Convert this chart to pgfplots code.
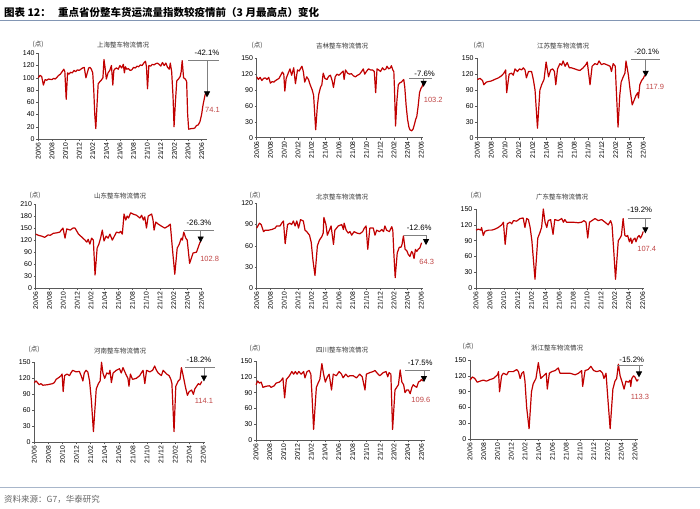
\documentclass[border=0pt]{standalone}
\usepackage{fontspec}
\setmainfont{Liberation Sans}
\newfontfamily\cjk{Noto Sans CJK SC}
\usepackage{pgfplots}
\pgfplotsset{compat=1.18}
\usetikzlibrary{arrows.meta}
\definecolor{lineRed}{RGB}{192,0,0}
\definecolor{valRed}{RGB}{192,70,70}
\definecolor{ruleBlue}{RGB}{130,150,180}
\pgfplotsset{
 panel/.style={scale only axis, anchor=south west, xmin=0, ymin=0,
  axis x line*=bottom, axis y line*=left,
  axis line style={-, draw=black!65, line width=0.6pt},
  xtick={0,2,...,24},
  xticklabels={20/06,20/08,20/10,20/12,21/02,21/04,21/06,21/08,21/10,21/12,22/02,22/04,22/06},
  x tick label style={rotate=90, anchor=east, font=\fontsize{6.8}{7}\selectfont, inner sep=1.5pt},
  y tick label style={font=\fontsize{7}{7}\selectfont, inner sep=1.5pt},
  tick align=outside, major tick length=2pt,
  tick style={draw=black!65, line width=0.5pt},
  clip=false,
  /pgf/number format/assume math mode=true,
 },
 redline/.style={draw=lineRed, line width=1.2pt, mark=none, line join=round, forget plot},
}
\tikzset{
 hl/.style={draw=black!50, line width=0.8pt},
 ar/.style={draw=black!50, line width=0.7pt, -{Triangle[width=6pt,length=6pt,fill=black,color=black]}},
 pct/.style={font=\fontsize{7.8}{8}\selectfont, inner sep=0pt},
 val/.style={font=\fontsize{7.5}{8}\selectfont, text=valRed, inner sep=0pt},
}
\newcommand{\ptitle}[3]{\node[font=\cjk\fontsize{6.5}{7}\selectfont, text=black!80] at (#1pt,-#2pt) {#3};}
\begin{document}
\begin{tikzpicture}
\useasboundingbox (0,0) rectangle (700pt,-508pt);
% header
\node[anchor=west, font=\cjk\bfseries\fontsize{10.5}{11}\selectfont, inner sep=0pt] at (4pt,-12.5pt) {图表 12：\hspace{0.7em}重点省份整车货运流量指数较疫情前（3 月最高点）变化};
\draw[ruleBlue, line width=1pt] (0pt,-20.5pt) -- (700pt,-20.5pt);
% footer
\draw[ruleBlue!70, line width=0.8pt] (0pt,-487pt) -- (700pt,-487pt);
\node[anchor=west, font=\cjk\fontsize{8.5}{9}\selectfont, text=black!60, inner sep=0pt] at (4pt,-499.5pt) {资料来源：G7，华泰研究};

% ---------------- Shanghai
\ptitle{123}{45}{上海整车物流情况}
\ptitle{38}{44}{(点)}
\begin{axis}[panel, at={(38.3pt,-139pt)}, width=168.4pt, height=85.7pt, xmax=24.75, ymax=140, ytick={0,20,...,140}]
\addplot[redline] coordinates {(0,100)(0.25,104)(0.5,102)(0.75,88)(1.0,97)(1.25,96)(1.5,98)(2.0,97)(2.25,99)(2.5,98)(2.75,101)(3.0,104)(3.25,106)(3.5,110)(3.75,114)(3.9,110)(4.1,65)(4.3,108)(4.5,106)(4.75,109)(5.0,108)(5.25,112)(5.5,110)(5.75,113)(6.0,112)(6.25,114)(6.5,116)(6.75,117)(7.0,100)(7.2,108)(7.4,116)(7.6,117)(7.8,114)(8.0,108)(8.15,80)(8.3,40)(8.45,17)(8.65,60)(8.8,90)(9.0,93)(9.25,96)(9.5,100)(9.65,130)(9.8,118)(10.0,98)(10.25,108)(10.5,112)(10.75,120)(10.95,88)(11.1,112)(11.3,115)(11.5,116)(11.75,114)(12.0,120)(12.25,116)(12.5,122)(12.65,108)(12.8,118)(13.0,114)(13.25,115)(13.5,112)(13.75,113)(14.0,117)(14.25,116)(14.5,119)(14.75,118)(15.0,121)(15.25,120)(15.5,124)(15.75,127)(15.9,118)(16.05,82)(16.25,120)(16.5,119)(16.75,122)(17.0,121)(17.25,123)(17.5,124)(17.75,122)(18.0,119)(18.25,125)(18.5,120)(18.75,124)(19.0,117)(19.25,114)(19.4,124)(19.6,110)(19.8,70)(19.95,20)(20.15,60)(20.35,95)(20.6,98)(20.85,102)(21.0,110)(21.15,128)(21.35,100)(21.6,98)(21.8,94)(21.95,40)(22.1,16)(22.5,17)(22.75,17)(23.0,18)(23.25,22)(23.5,23)(23.75,28)(24.0,40)(24.2,55)(24.4,66)(24.55,74.1)};
\draw[hl] (axis cs:22.05,128) -- (axis cs:26.5,128);
\draw[ar] (axis cs:24.8,128) -- (axis cs:24.8,68);
\node[pct] at (axis cs:24.8,141) {-42.1\%};
\node[val] at (axis cs:25.6,47) {74.1};
\end{axis}

% ---------------- Jilin
\ptitle{342}{45.7}{吉林整车物流情况}
\ptitle{257}{45}{(点)}
\begin{axis}[panel, at={(256.7pt,-137.7pt)}, width=166.6pt, height=79.4pt, xmax=24.3, ymax=150, ytick={0,30,...,150}]
\addplot[redline] coordinates {(0,115)(0.25,110)(0.5,114)(0.75,108)(1.0,112)(1.25,113)(1.5,110)(1.75,114)(2.0,103)(2.25,106)(2.5,105)(2.75,108)(3.0,110)(3.25,112)(3.5,118)(3.75,124)(3.95,120)(4.1,88)(4.3,112)(4.6,122)(4.85,130)(5.1,118)(5.4,132)(5.65,102)(5.95,128)(6.2,126)(6.45,132)(6.6,135)(6.8,125)(7.0,105)(7.3,115)(7.55,110)(7.8,100)(8.1,90)(8.3,80)(8.6,15)(8.85,60)(9.05,82)(9.3,95)(9.5,100)(9.7,122)(9.95,112)(10.25,110)(10.5,116)(10.75,118)(11.0,108)(11.2,95)(11.45,115)(11.7,120)(12.0,118)(12.3,122)(12.6,126)(12.75,110)(12.95,128)(13.25,122)(13.55,120)(13.8,121)(14.1,117)(14.4,115)(14.7,118)(15.0,120)(15.3,125)(15.55,130)(15.75,120)(16.0,125)(16.3,130)(16.6,128)(16.9,128)(17.15,125)(17.35,85)(17.55,130)(17.8,128)(18.05,125)(18.35,132)(18.6,128)(18.85,130)(19.0,135)(19.25,130)(19.5,132)(19.65,136)(19.85,128)(20.0,125)(20.1,90)(20.25,22)(20.45,70)(20.65,100)(20.9,104)(21.1,105)(21.3,108)(21.45,110)(21.6,95)(21.8,60)(22.0,35)(22.2,20)(22.35,15)(22.6,13)(22.8,16)(23.0,25)(23.2,35)(23.35,40)(23.55,60)(23.75,85)(23.95,93)(24.1,96)(24.3,103.2)};
\draw[hl] (axis cs:22.25,112) -- (axis cs:25.5,112);
\draw[ar] (axis cs:24.35,112) -- (axis cs:24.35,96);
\node[pct] at (axis cs:24.5,121.5) {-7.6\%};
\node[val] at (axis cs:25.75,71) {103.2};
\end{axis}

% ---------------- Jiangsu
\ptitle{563}{45.7}{江苏整车物流情况}
\ptitle{479}{45}{(点)}
\begin{axis}[panel, at={(477.3pt,-137.7pt)}, width=167.7pt, height=79.4pt, xmax=24.25, ymax=150, ytick={0,30,...,150}]
\addplot[redline] coordinates {(0,110)(0.4,112)(0.75,108)(0.95,100)(1.3,105)(1.6,106)(2.0,107)(2.5,110)(3.05,113)(3.5,117)(3.85,122)(4.1,128)(4.25,85)(4.6,120)(4.95,122)(5.2,118)(5.45,130)(5.8,125)(6.1,130)(6.4,128)(6.65,132)(6.9,128)(7.1,113)(7.4,125)(7.85,125)(8.1,110)(8.35,90)(8.7,18)(9.05,90)(9.3,100)(9.65,110)(9.95,143)(10.3,115)(10.6,128)(10.9,130)(11.15,125)(11.35,100)(11.6,130)(11.95,140)(12.2,137)(12.4,145)(12.7,135)(13.0,142)(13.3,132)(13.6,132)(14.1,130)(14.5,128)(14.85,127)(15.3,132)(15.7,138)(15.9,143)(16.3,100)(16.6,135)(17.0,140)(17.35,138)(17.6,145)(17.95,138)(18.3,140)(18.7,138)(19.2,135)(19.4,125)(19.65,140)(19.95,135)(20.1,90)(20.35,20)(20.6,80)(20.8,105)(21.1,115)(21.35,122)(21.5,145)(21.85,118)(22.1,90)(22.4,62)(22.65,70)(22.95,80)(23.2,85)(23.3,75)(23.5,100)(23.75,108)(24.0,112)(24.2,117.9)};
\draw[hl] (axis cs:22.2,147.6) -- (axis cs:26.4,147.6);
\draw[ar] (axis cs:24.35,147.6) -- (axis cs:24.35,115);
\node[pct] at (axis cs:24.5,163) {-20.1\%};
\node[val] at (axis cs:25.7,95) {117.9};
\end{axis}

% ---------------- Shandong
\ptitle{120}{195.7}{山东整车物流情况}
\ptitle{35}{195}{(点)}
\begin{axis}[panel, at={(35.7pt,-288.3pt)}, width=166pt, height=84.3pt, xmax=24.05, ymax=210, ytick={0,30,...,210}]
\addplot[redline] coordinates {(0,135)(0.4,132)(0.85,130)(1.3,127)(1.8,133)(2.1,132)(2.55,137)(3.0,138)(3.5,140)(3.7,145)(3.95,150)(4.25,125)(4.5,148)(5.0,145)(5.4,150)(5.7,150)(6.2,135)(6.65,128)(7.15,120)(7.4,115)(7.6,122)(7.85,110)(8.1,125)(8.35,120)(8.6,33)(8.9,100)(9.15,110)(9.4,125)(9.65,145)(9.9,118)(10.2,130)(10.5,125)(10.75,135)(11.1,120)(11.4,130)(11.7,140)(12.1,138)(12.3,142)(12.55,135)(12.8,185)(13.05,170)(13.25,180)(13.45,175)(13.75,188)(14.1,185)(14.6,182)(15.1,175)(15.35,182)(15.6,170)(15.8,178)(16.05,150)(16.3,180)(16.8,185)(17.0,170)(17.15,145)(17.4,165)(17.75,160)(18.2,155)(18.7,150)(19.2,155)(19.5,160)(19.8,100)(20.15,35)(20.5,100)(20.8,110)(21.1,125)(21.25,120)(21.45,140)(21.75,125)(21.95,120)(22.1,95)(22.3,62)(22.55,75)(22.8,88)(23.3,90)(23.5,100)(23.75,112)(23.9,118)};
\draw[hl] (axis cs:21.5,143) -- (axis cs:25.9,143);
\draw[ar] (axis cs:23.9,143) -- (axis cs:23.9,114);
\node[pct] at (axis cs:23.65,162) {-26.3\%};
\node[val] at (axis cs:25.2,73) {102.8};
\end{axis}

% ---------------- Beijing
\ptitle{342}{197}{北京整车物流情况}
\ptitle{255}{195}{(点)}
\begin{axis}[panel, at={(256.7pt,-288.3pt)}, width=166.6pt, height=85pt, xmax=24.3, ymax=120, ytick={0,30,...,120}]
\addplot[redline] coordinates {(0,85)(0.4,92)(0.65,90)(1.0,80)(1.2,82)(1.7,82)(2.2,83)(2.7,85)(2.9,88)(3.4,88)(3.65,92)(3.9,95)(4.15,63)(4.5,90)(4.85,92)(5.1,90)(5.35,95)(5.6,88)(5.85,95)(6.1,85)(6.4,97)(6.8,95)(7.05,82)(7.3,80)(7.7,75)(7.95,65)(8.2,40)(8.5,18)(8.85,60)(9.15,68)(9.5,73)(9.7,78)(9.8,100)(10.1,90)(10.3,75)(10.6,82)(10.85,88)(11.2,62)(11.4,82)(11.9,88)(12.4,90)(12.65,83)(12.75,92)(13.05,82)(13.35,78)(13.6,80)(13.85,75)(14.2,80)(14.6,78)(15.05,77)(15.45,80)(15.7,85)(15.95,88)(16.2,55)(16.5,85)(17.0,85)(17.25,75)(17.5,82)(17.9,80)(18.25,83)(18.5,80)(18.7,88)(18.95,82)(19.35,80)(19.7,87)(19.85,82)(20.0,50)(20.2,15)(20.5,50)(20.8,58)(21.05,58)(21.2,62)(21.4,74)(21.65,55)(21.9,53)(22.1,48)(22.35,45)(22.6,52)(22.75,50)(22.95,42)(23.15,55)(23.35,52)(23.55,55)(23.8,57)(24.05,64.3)};
\draw[hl] (axis cs:21.5,74) -- (axis cs:24.9,74);
\draw[ar] (axis cs:24.7,74) -- (axis cs:24.7,61);
\node[pct] at (axis cs:23.7,85) {-12.6\%};
\node[val] at (axis cs:24.8,37.6) {64.3};
\end{axis}

% ---------------- Guangdong
\ptitle{562}{197}{广东整车物流情况}
\ptitle{476}{195}{(点)}
\begin{axis}[panel, at={(476pt,-288.3pt)}, width=168.3pt, height=79.3pt, xmax=24.25, ymax=150, ytick={0,30,...,150}]
\addplot[redline] coordinates {(0,110)(0.35,112)(0.7,110)(0.8,115)(1.05,100)(1.3,108)(1.8,110)(2.25,110)(2.75,112)(3.2,115)(3.7,120)(3.95,125)(4.2,83)(4.5,122)(4.9,125)(5.15,122)(5.4,128)(5.85,127)(6.35,132)(6.8,133)(7.05,115)(7.3,132)(7.55,130)(7.8,115)(8.05,90)(8.5,17)(8.9,95)(9.2,105)(9.45,115)(9.7,150)(9.95,125)(10.2,115)(10.4,128)(10.75,130)(11.1,102)(11.35,130)(11.85,128)(12.35,132)(12.6,125)(12.8,130)(13.05,125)(14.0,125)(14.75,124)(15.2,125)(15.55,128)(15.85,125)(16.1,95)(16.35,125)(16.7,128)(17.15,132)(17.6,128)(18.1,130)(18.6,125)(19.05,120)(19.4,128)(19.6,120)(19.9,60)(20.1,17)(20.5,90)(20.75,95)(20.95,100)(21.2,132)(21.45,100)(21.7,98)(21.85,100)(22.1,88)(22.3,95)(22.45,85)(22.65,92)(22.9,95)(23.05,88)(23.3,97)(23.5,100)(23.7,95)(23.9,100)(24.1,107.4)};
\draw[hl] (axis cs:21.95,133) -- (axis cs:25.15,133);
\draw[ar] (axis cs:24.4,133) -- (axis cs:24.4,104);
\node[pct] at (axis cs:23.6,149) {-19.2\%};
\node[val] at (axis cs:24.6,74) {107.4};
\end{axis}

% ---------------- Henan
\ptitle{120}{350.7}{河南整车物流情况}
\ptitle{34}{349}{(点)}
\begin{axis}[panel, at={(34.3pt,-442.3pt)}, width=170.7pt, height=80pt, xmax=24.25, ymax=150, ytick={0,30,...,150}]
\addplot[redline] coordinates {(0,112)(0.25,115)(0.7,108)(0.95,110)(1.2,107)(1.9,108)(2.6,110)(2.85,112)(3.1,118)(3.55,122)(3.8,125)(3.95,128)(4.1,95)(4.3,125)(4.65,128)(5.0,125)(5.2,130)(5.45,135)(5.95,132)(6.4,133)(6.65,125)(6.9,115)(7.1,130)(7.35,135)(7.6,132)(7.85,115)(8.1,80)(8.4,20)(8.8,100)(9.1,110)(9.35,115)(9.55,150)(9.75,130)(10.0,120)(10.3,130)(10.6,128)(10.75,135)(10.95,112)(11.2,130)(11.65,135)(12.1,138)(12.35,130)(12.6,140)(13.1,125)(13.3,120)(13.45,105)(13.65,128)(13.95,118)(14.5,120)(14.97,125)(15.2,130)(15.45,135)(15.7,110)(15.95,135)(16.4,132)(16.8,135)(17.1,143)(17.35,135)(17.6,130)(18.05,125)(18.3,135)(18.8,128)(19.15,125)(19.4,118)(19.55,110)(19.85,20)(20.1,105)(20.45,115)(20.7,118)(20.9,140)(21.15,125)(21.45,105)(21.75,88)(22.0,95)(22.35,98)(22.6,90)(22.8,100)(23.05,105)(23.3,110)(23.55,108)(23.8,114.1)};
\draw[hl] (axis cs:21.4,140) -- (axis cs:25.7,140);
\draw[ar] (axis cs:24.1,140) -- (axis cs:24.1,114);
\node[pct] at (axis cs:23.4,154) {-18.2\%};
\node[val] at (axis cs:24.1,77.5) {114.1};
\end{axis}

% ---------------- Sichuan
\ptitle{342}{350}{四川整车物流情况}
\ptitle{255}{348}{(点)}
\begin{axis}[panel, at={(256pt,-440pt)}, width=169pt, height=79pt, xmax=24.5, ymax=150, ytick={0,30,...,150}]
\addplot[redline] coordinates {(0,105)(0.25,112)(0.5,108)(0.75,110)(1.0,100)(1.45,102)(1.95,103)(2.2,100)(2.65,103)(2.9,108)(3.4,110)(3.65,113)(3.9,118)(4.15,80)(4.4,115)(4.6,118)(4.85,122)(5.2,130)(5.45,125)(5.7,130)(5.95,125)(6.2,130)(6.55,125)(6.9,130)(7.1,118)(7.4,130)(7.7,132)(7.95,125)(8.1,90)(8.35,20)(8.75,100)(9.0,108)(9.25,115)(9.55,145)(9.8,125)(10.05,110)(10.35,120)(10.6,125)(10.95,95)(11.2,125)(11.65,122)(12.05,130)(12.4,125)(12.625,118)(13.0,125)(13.35,120)(13.6,122)(14.1,122)(14.55,118)(15.05,125)(15.4,120)(15.8,95)(16.0,125)(16.5,128)(17.0,130)(17.25,132)(17.7,125)(17.95,122)(18.45,128)(18.85,130)(19.1,120)(19.3,128)(19.55,125)(19.8,20)(20.15,95)(20.4,100)(20.65,105)(20.9,133)(21.15,110)(21.4,105)(21.6,90)(21.85,95)(22.1,95)(22.35,88)(22.6,100)(22.8,105)(23.05,102)(23.3,100)(23.55,110)(23.8,112)(24.0,115)(24.2,112)};
\draw[hl] (axis cs:21.6,133) -- (axis cs:25.25,133);
\draw[ar] (axis cs:24.35,133) -- (axis cs:24.35,110);
\node[pct] at (axis cs:23.8,146) {-17.5\%};
\node[val] at (axis cs:23.9,77) {109.6};
\end{axis}

% ---------------- Zhejiang
\ptitle{557}{348}{浙江整车物流情况}
\ptitle{468}{346}{(点)}
\begin{axis}[panel, at={(470pt,-439.3pt)}, width=168.3pt, height=79.3pt, xmax=24.5, ymax=150, ytick={0,30,...,150}]
\addplot[redline] coordinates {(0,112)(0.35,118)(0.7,115)(1.05,108)(1.45,110)(1.95,112)(2.4,110)(2.9,113)(3.4,115)(3.65,118)(4.0,122)(4.15,128)(4.3,90)(4.6,120)(4.85,125)(5.35,122)(5.6,128)(6.3,128)(6.8,132)(7.05,128)(7.3,115)(7.55,125)(7.8,128)(8.0,110)(8.25,60)(8.6,20)(8.95,90)(9.2,105)(9.6,115)(9.95,145)(10.3,115)(10.7,120)(11.1,125)(11.25,95)(11.55,125)(11.9,128)(12.4,130)(12.85,135)(13.1,125)(13.85,125)(14.55,125)(15.3,122)(15.8,125)(16.25,130)(16.4,100)(16.75,130)(17.2,132)(17.6,138)(18.0,130)(18.45,128)(18.95,130)(19.3,125)(19.5,115)(19.8,125)(20.05,80)(20.4,20)(20.8,95)(21.1,110)(21.35,115)(21.6,142)(21.85,120)(22.1,110)(22.425,95)(22.7,110)(23.05,108)(23.3,112)(23.4,100)(23.55,115)(23.8,120)(24.0,118)(24.3,110)(24.5,113.3)};
\draw[hl] (axis cs:21.45,140) -- (axis cs:25.25,140);
\draw[ar] (axis cs:24.6,140) -- (axis cs:24.6,117);
\node[pct] at (axis cs:23.55,150) {-15.2\%};
\node[val] at (axis cs:24.75,80.6) {113.3};
\end{axis}
\end{tikzpicture}
\end{document}
